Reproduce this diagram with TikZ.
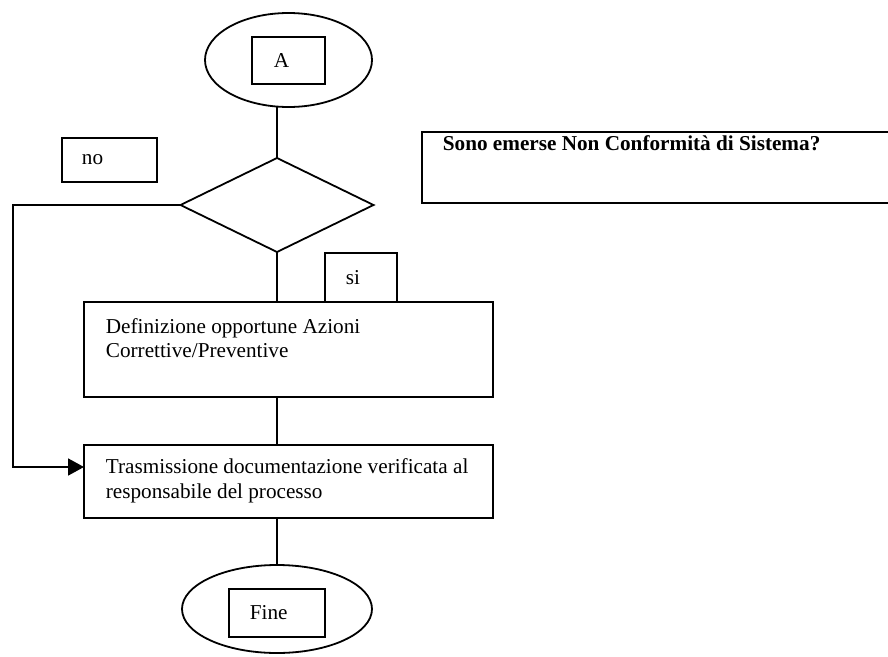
\documentclass[tikz,border=0pt]{standalone}
\usepackage{fontspec}
\setmainfont{Liberation Serif}
\usetikzlibrary{shapes.geometric,arrows.meta,positioning}
\tikzset{
  frame/.style={draw, line width=1.8pt, inner sep=0pt, outer sep=0pt},
  box/.style={frame, rectangle, anchor=north west},
  txt/.style={anchor=west, inner sep=0pt, align=left, font=\fontsize{21.2}{24.5}\selectfont},
}
\begin{document}
\begin{tikzpicture}[x=1pt, y=-1pt, line width=1.8pt]
	\useasboundingbox (0,0) rectangle (888,656);
	% shapes
	\node[frame, ellipse, minimum width=167pt, minimum height=94pt] (start) at (288.5,60){};
	\node[box, minimum width=73pt, minimum height=47pt] (boxA) at (252,37){};
	\node[box, minimum width=95pt, minimum height=44pt] (boxno) at (62,138){};
	\node[box, minimum width=470pt, minimum height=71pt] (ask) at (422,132){};
	\node[frame, diamond, minimum width=193pt, minimum height=94pt] (dia) at (277,205){};
	\node[box, minimum width=72pt, minimum height=49pt] (boxsi) at (325,253){};
	\node[box, minimum width=409pt, minimum height=95pt] (def) at (84,302){};
	\node[box, minimum width=409pt, minimum height=73pt] (tx) at (84,445){};
	\node[frame, ellipse, minimum width=190pt, minimum height=88pt] (stop) at (277,609){};
	\node[box, minimum width=96pt, minimum height=48pt] (boxfine) at (229,589){};
	% texts
	\node[txt] (tA) at (273,61){A};
	\node[txt] (tno) at (81,160){no};
	\node[txt] (tsi) at (345,278){si};
	\node[txt, font=\fontsize{21.2}{24.5}\selectfont\bfseries] (task) at (442,143){Sono emerse Non Conformità di Sistema?};
	\node[txt] (tdef) at (105,338){Definizione opportune Azioni\\Correttive/Preventive};
	\node[txt] (ttx) at (105,481){Trasmissione documentazione verificata al\\responsabile del processo};
	\node[txt] (tfine) at (249,613){Fine};
	% connectors
	\coordinate (bend) at (13,205);
	\coordinate (entry) at (84,467);
	\draw (dia.north) -- (dia.north |- start.south);
	\draw (dia.south) -- (dia.south |- def.north);
	\draw (dia.south |- def.south) -- (dia.south |- tx.north);
	\draw (dia.south |- tx.south) -- (stop.north);
	\draw[-{Triangle[length=16pt,width=17pt]}] (dia.west) -- (bend) |- (entry);
\end{tikzpicture}
\end{document}
